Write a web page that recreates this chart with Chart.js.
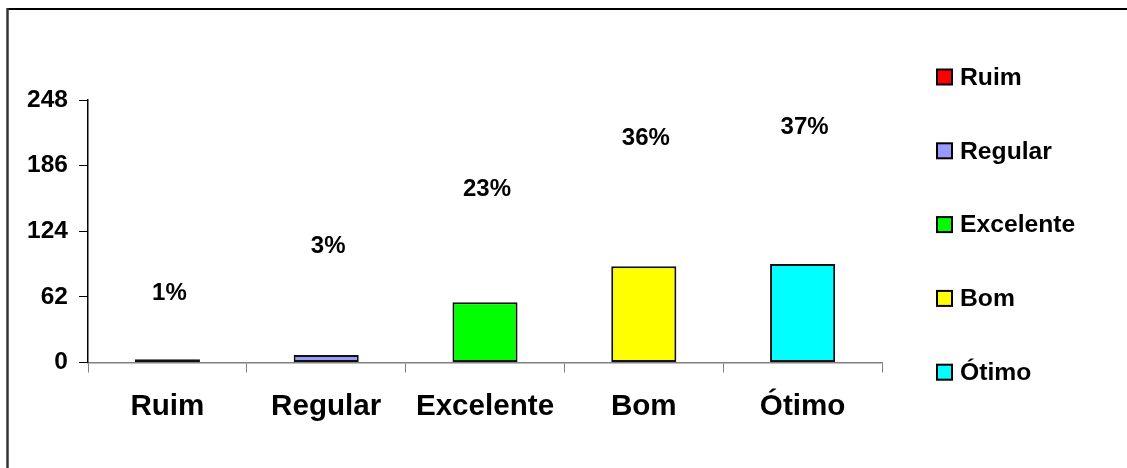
<!DOCTYPE html>
<html>
<head>
<meta charset="utf-8">
<script src="https://cdn.jsdelivr.net/npm/chart.js@4/dist/chart.umd.min.js"></script>
<style>
  html, body { margin: 0; padding: 0; background: #fff; }
  #wrap { width: 1127px; height: 468px; position: relative; }
</style>
</head>
<body>
<div id="wrap"><canvas id="c" width="1127" height="468"></canvas></div>
<script>
// Survey answers per rating
const categories = ['Ruim', 'Regular', 'Excelente', 'Bom', 'Ótimo'];
const counts = [3, 7, 57, 91, 93];
const barColors = ['#FF0000', '#9999FF', '#00FF00', '#FFFF00', '#00FFFF'];
const yTicks = [0, 62, 124, 186, 248];
// Height (in axis units) where each percentage label sits
const labelLevels = [65, 110, 164, 212, 222];

const FONT = '"Liberation Sans", Arial, sans-serif';
const total = counts.reduce((a, b) => a + b, 0);

const framePlugin = {
  id: 'frame',
  beforeDraw(chart) {
    const ctx = chart.ctx;
    ctx.save();
    ctx.fillStyle = '#fff';
    ctx.fillRect(0, 0, chart.width, chart.height);
    ctx.strokeStyle = '#000';
    ctx.lineWidth = 2;
    ctx.beginPath();
    ctx.moveTo(7, 9);
    ctx.lineTo(chart.width, 9);
    ctx.stroke();
    ctx.strokeStyle = '#333';
    ctx.lineWidth = 2.5;
    ctx.beginPath();
    ctx.moveTo(7.5, 8);
    ctx.lineTo(7.5, chart.height);
    ctx.stroke();
    ctx.restore();
  }
};

const percentLabels = {
  id: 'percentLabels',
  afterDatasetsDraw(chart) {
    const ctx = chart.ctx;
    const meta = chart.getDatasetMeta(0);
    const y = chart.scales.y;
    ctx.save();
    ctx.font = 'bold 24px ' + FONT;
    ctx.fillStyle = '#000';
    ctx.textAlign = 'center';
    ctx.textBaseline = 'middle';
    meta.data.forEach((bar, i) => {
      const pct = Math.round(counts[i] / total * 100) + '%';
      ctx.fillText(pct, bar.x + 2, y.getPixelForValue(labelLevels[i]));
    });
    ctx.restore();
  }
};

const sideLegend = {
  id: 'sideLegend',
  afterDraw(chart) {
    const ctx = chart.ctx;
    const left = 936, top = 77, step = 73.8, box = 15;
    ctx.save();
    ctx.font = 'bold 24.7px ' + FONT;
    ctx.textBaseline = 'middle';
    ctx.textAlign = 'left';
    categories.forEach((name, i) => {
      const cy = top + i * step;
      ctx.fillStyle = barColors[i];
      ctx.fillRect(left + 1, cy - box / 2, box, box);
      ctx.strokeStyle = '#000';
      ctx.lineWidth = 2;
      ctx.strokeRect(left + 1, cy - box / 2, box, box);
      ctx.fillStyle = '#000';
      ctx.fillText(name, 960, cy + 1);
    });
    ctx.restore();
  }
};

new Chart(document.getElementById('c'), {
  type: 'bar',
  data: {
    labels: categories,
    datasets: [{
      data: counts,
      backgroundColor: barColors,
      borderColor: '#111',
      borderWidth: 2,
      borderSkipped: false,
      barPercentage: 0.82,
      categoryPercentage: 0.5
    }]
  },
  plugins: [framePlugin, percentLabels, sideLegend],
  options: {
    responsive: false,
    animation: false,
    devicePixelRatio: 1,
    layout: { padding: { left: 0, right: 245, top: 100, bottom: 0 } },
    plugins: { legend: { display: false }, tooltip: { enabled: false } },
    scales: {
      x: {
        offset: true,
        grid: { display: true, offset: true, drawOnChartArea: false, drawTicks: true, tickLength: 10, color: '#808080', lineWidth: 1 },
        border: { display: true, color: '#808080', width: 1.5 },
        ticks: { color: '#000', font: { family: FONT, size: 29.6, weight: 'bold' }, padding: 17, maxRotation: 0 },
        afterFit(scale) { scale.height = 105.5; }
      },
      y: {
        min: 0,
        max: 248,
        afterBuildTicks(scale) { scale.ticks = yTicks.map(v => ({ value: v })); },
        grid: { display: true, drawOnChartArea: false, drawTicks: true, tickLength: 9, color: '#000', lineWidth: 1 },
        border: { display: true, color: '#000', width: 1.5 },
        ticks: { color: '#000', font: { family: FONT, size: 24.5, weight: 'bold' }, padding: 11 },
        afterFit(scale) { scale.width = 88; }
      }
    }
  }
});
</script>
</body>
</html>
